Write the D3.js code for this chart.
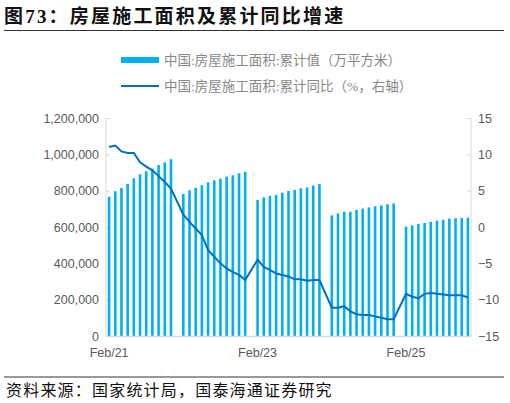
<!DOCTYPE html>
<html><head><meta charset="utf-8">
<script src="https://cdn.jsdelivr.net/npm/d3@7"></script>
<style>body{margin:0;background:#fff}</style></head>
<body><svg id="c" width="510" height="403"></svg>
<script>
const years = [2021, 2022, 2023, 2024, 2025];
const months = [2,3,4,5,6,7,8,9,10,11,12];
const area2021 = [767,797,815,837,868,890,907,921,941,956,973];
const area2022 = [782,802,815,830,846,857,866,877,885,896,903];
const area2023 = [749,763,771,776,789,799,804,813,818,828,837];
const area2024 = [664,675,684,684,694,701,708,714,719,725,730];
const area2025 = [602,609,617,622,629,635,640,646,648,650,651];
const yoy2021 = [11.0,11.2,10.4,10.2,10.2,8.9,8.3,7.8,7.0,6.2,5.3];
const yoy2022 = [1.7,0.7,-0.2,-1.1,-3.2,-4.1,-5.0,-5.7,-6.2,-6.6,-7.3];
const yoy2023 = [-4.5,-5.5,-5.9,-6.4,-6.6,-6.8,-7.2,-7.2,-7.4,-7.3,-7.3];
const yoy2024 = [-11.1,-11.1,-10.9,-11.6,-12.0,-12.1,-12.1,-12.3,-12.5,-12.7,-12.7];
const yoy2025 = [-9.2,-9.6,-9.8,-9.2,-9.1,-9.2,-9.3,-9.4,-9.4,-9.4,-9.7];
const leftTicks = [0,200000,400000,600000,800000,1000000,1200000];
const rightTicks = [-15,-10,-5,0,5,10,15];
const xLabels = ["Feb/21","Feb/23","Feb/25"];

const areas=[area2021,area2022,area2023,area2024,area2025];
const yoys=[yoy2021,yoy2022,yoy2023,yoy2024,yoy2025];
const data=[];
years.forEach((y,i)=>months.forEach((m,j)=>data.push({key:y*100+m,v:areas[i][j]*1000,r:yoys[i][j]})));
const slots=[];
for(let y=2021;y<=2025;y++)for(let m=1;m<=12;m++){const k=y*100+m;if(k>=202102)slots.push(k);}

const svg=d3.select("#c");
const font="'Liberation Serif','Noto Sans CJK SC',serif";
svg.append("text").attr("x",4).attr("y",23).attr("font-family",font).attr("font-weight","bold").attr("font-size",19).attr("letter-spacing",2.2).attr("fill","#111").text("图73：房屋施工面积及累计同比增速");
svg.append("line").attr("x1",4).attr("x2",504).attr("y1",30.5).attr("y2",30.5).attr("stroke","#333").attr("stroke-width",1);

const x=d3.scaleBand().domain(slots).range([106,471]);
const yL=d3.scaleLinear().domain([0,1200000]).range([336,118]);
const yR=d3.scaleLinear().domain([-15,15]).range([336,118]);
const axisCol="#d9d9d9", txtCol="#595959";
const tf="Liberation Sans, Arial, sans-serif";

const gl=svg.append("g").attr("transform","translate(106,0)").call(d3.axisLeft(yL).tickValues(leftTicks).tickFormat(d3.format(",")).tickSize(4));
const gr=svg.append("g").attr("transform","translate(471,0)").call(d3.axisRight(yR).tickValues(rightTicks).tickSize(4));
[gl,gr].forEach(g=>{g.selectAll("path,line").attr("stroke",axisCol);g.selectAll("text").attr("fill",txtCol).attr("font-family",tf).attr("font-size",12.5);});
gl.selectAll("line").attr("x2",4);gr.selectAll("line").attr("x2",-4);
gl.select("path").attr("d","M0,118V336");gr.select("path").attr("d","M0,118V336");

const bw=2.6;
svg.append("g").selectAll("rect").data(data).join("rect")
 .attr("x",d=>x(d.key)+x.bandwidth()/2-bw/2).attr("width",bw)
 .attr("y",d=>yL(d.v)).attr("height",d=>yL(0)-yL(d.v)).attr("fill","#00b0f0");

svg.append("line").attr("x1",106).attr("x2",471).attr("y1",336.5).attr("y2",336.5).attr("stroke",axisCol).attr("stroke-width",1.5);

svg.append("path").datum(data).attr("fill","none").attr("stroke","#0070c0").attr("stroke-width",2)
 .attr("d",d3.line().x(d=>x(d.key)+x.bandwidth()/2).y(d=>yR(d.r)));

const xl={ "Feb/21":202102,"Feb/23":202302,"Feb/25":202502};
svg.append("g").selectAll("text").data(xLabels).join("text")
 .attr("x",d=>x(xl[d])+x.bandwidth()/2).attr("y",357).attr("text-anchor","middle")
 .attr("font-family",tf).attr("font-size",12.5).attr("fill",txtCol).text(d=>d);

svg.append("rect").attr("x",121).attr("y",57).attr("width",38).attr("height",6).attr("fill","#00b0f0");
svg.append("text").attr("x",164).attr("y",65).attr("font-family",font).attr("font-size",13.5).attr("fill","#888").text("中国:房屋施工面积:累计值（万平方米）");
svg.append("line").attr("x1",121).attr("x2",159).attr("y1",86).attr("y2",86).attr("stroke","#0070c0").attr("stroke-width",2);
svg.append("text").attr("x",164).attr("y",91).attr("font-family",font).attr("font-size",13.5).attr("fill","#888").text("中国:房屋施工面积:累计同比（%，右轴）");

svg.append("line").attr("x1",4).attr("x2",504).attr("y1",377).attr("y2",377).attr("stroke","#777").attr("stroke-width",1.5);
svg.append("text").attr("x",6).attr("y",396).attr("font-family",font).attr("font-size",16).attr("letter-spacing",1.2).attr("fill","#111").text("资料来源：国家统计局，国泰海通证券研究");
</script></body></html>
